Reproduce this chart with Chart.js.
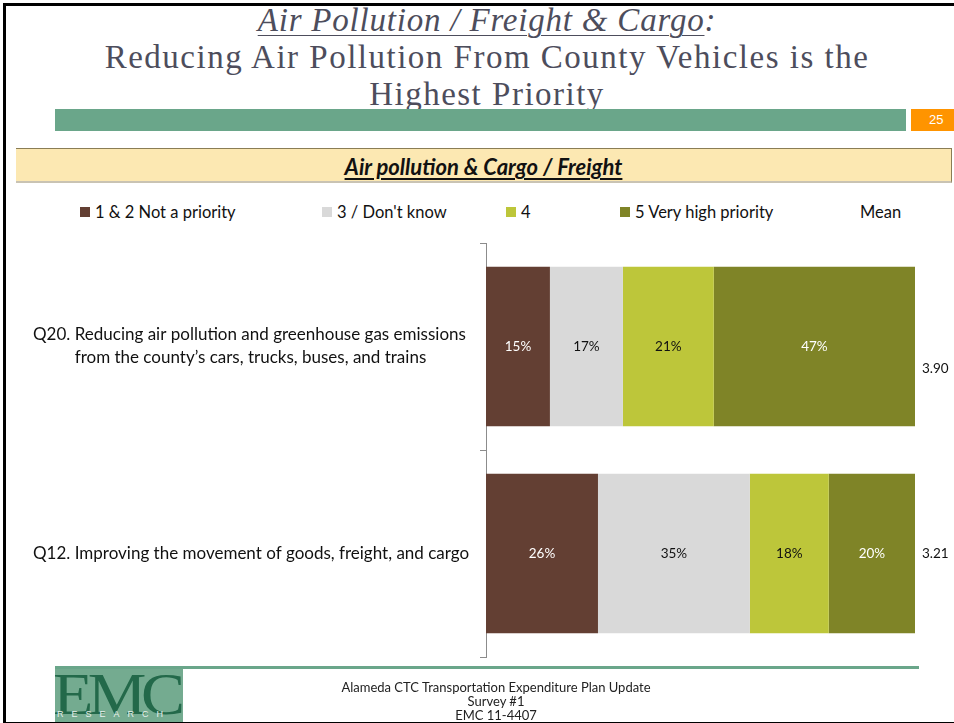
<!DOCTYPE html>
<html>
<head>
<meta charset="utf-8">
<script src="https://cdn.jsdelivr.net/npm/chart.js@4"></script>
<style>
  body { margin: 0; background: #fff; }
  #slide { position: relative; width: 954px; height: 723px; overflow: hidden; background: #fff; font-family: Lato, "Open Sans", sans-serif; }
  #frame { position: absolute; left: 3px; top: 3px; width: 960px; height: 716px; border: 3px solid #000; border-right: none; box-sizing: content-box; }
  .title { position: absolute; left: 0; width: 974px; text-align: center; font-family: "Liberation Serif", serif; font-size: 33px; color: #4d4d5c; line-height: 37px; letter-spacing: 1.5px; }
  #t1 { top: 2px; font-style: italic; letter-spacing: 0.8px; }
  #t1 u { text-decoration-thickness: 1px; text-underline-offset: 4px; }
  #t2 { top: 39px; }
  #t3 { top: 76px; }
  #greenBar { position: absolute; left: 55px; top: 109px; width: 851px; height: 22px; background: #6aa68a; }
  #pageBox { position: absolute; left: 911px; top: 109px; width: 43px; height: 22px; background: #ff9400; color: #fff; font: 13px "Liberation Sans", sans-serif; line-height: 22px; padding-left: 18px; box-sizing: border-box; }
  #banner { position: absolute; left: 16px; top: 148px; width: 936px; height: 35px; background: #fce8b2; border-top: 1px solid #8a7d55; border-right: 1px solid #8a7d55; border-bottom: 2px solid #c9c3b3; box-sizing: border-box; text-align: center; font-weight: bold; font-style: italic; font-size: 22px; line-height: 35px; color: #111; }
  #banner span { text-decoration: underline; text-underline-offset: 3px; }
  .leg { position: absolute; top: 202px; font-size: 16.5px; line-height: 20px; color: #111; white-space: nowrap; }
  .leg i { display: inline-block; width: 10px; height: 10px; margin-right: 5px; vertical-align: 1px; }
  #chart { position: absolute; left: 0; top: 0; }
  #footLine { position: absolute; left: 55px; top: 666px; width: 864px; height: 3px; background: #6aa68a; }
  #logo { position: absolute; left: 55px; top: 669px; width: 128px; height: 54px; background: #74ab90; overflow: hidden; }
  #logo .emc { position: absolute; left: -2px; top: -9px; font: 60px "Liberation Serif", serif; color: #23694a; letter-spacing: -5px; transform: scaleX(1.1); transform-origin: left; }
  #logo .res { position: absolute; left: 2px; top: 40px; font: 9px "Liberation Sans", sans-serif; color: #e8f0ec; letter-spacing: 8px; }
  .foot { position: absolute; left: 0; width: 992px; text-align: center; font-size: 13px; color: #222; line-height: 14px; }
</style>
</head>
<body>
<div id="slide">
  <div class="title" id="t1"><u>Air Pollution / Freight &amp; Cargo</u>:</div>
  <div class="title" id="t2">Reducing Air Pollution From County Vehicles is the</div>
  <div class="title" id="t3">Highest Priority</div>
  <div id="greenBar"></div>
  <div id="pageBox">25</div>
  <div id="banner"><span>Air pollution &amp; Cargo / Freight</span></div>
  <div id="legend"></div>
  <canvas id="chart" width="954" height="723"></canvas>
  <div id="footLine"></div>
  <div id="logo"><div class="emc">EMC</div><div class="res">RESEARCH</div></div>
  <div class="foot" style="top:680px">Alameda CTC Transportation Expenditure Plan Update</div>
  <div class="foot" style="top:694px">Survey #1</div>
  <div class="foot" style="top:708px">EMC 11-4407</div>
  <div id="frame"></div>
</div>
<script>
// Categories (questions)
const categories = [
  ['Q20. Reducing air pollution and greenhouse gas emissions', 'from the county\u2019s cars, trucks, buses, and trains'],
  ['Q12. Improving the movement of goods, freight, and cargo']
];

// Series (percent of respondents)
const seriesNames = ['1 & 2 Not a priority', '3 / Don\'t know', '4', '5 Very high priority'];
const notPriority = [14.9, 26.1];
const dontKnow = [17.0, 35.4];
const fourRating = [21.2, 18.4];
const veryHigh = [46.9, 20.1];
const means = ['3.90', '3.21'];

const seriesColors = ['#633f33', '#d9d9d9', '#bdc63a', '#7f8427'];
const labelColors = ['#ffffff', '#111111', '#111111', '#ffffff'];

// HTML legend (fixed column positions like the slide)
const legendX = [80, 322, 506, 620];
const legendEl = document.getElementById('legend');
seriesNames.forEach((name, i) => {
  const d = document.createElement('div');
  d.className = 'leg';
  d.style.left = legendX[i] + 'px';
  d.innerHTML = '<i style="background:' + seriesColors[i] + '"></i>';
  d.appendChild(document.createTextNode(name));
  legendEl.appendChild(d);
});
const meanLeg = document.createElement('div');
meanLeg.className = 'leg';
meanLeg.style.left = '860px';
meanLeg.textContent = 'Mean';
legendEl.appendChild(meanLeg);

const FONT = 'Lato, "Open Sans", sans-serif';

// percent labels in the middle of each segment + mean on the right
const barLabels = {
  id: 'barLabels',
  afterDatasetsDraw(chart) {
    const ctx = chart.ctx;
    ctx.save();
    ctx.font = '13.5px ' + FONT;
    ctx.textAlign = 'center';
    ctx.textBaseline = 'middle';
    chart.data.datasets.forEach((ds, i) => {
      chart.getDatasetMeta(i).data.forEach((bar, j) => {
        ctx.fillStyle = labelColors[i];
        ctx.fillText(Math.round(ds.data[j]) + '%', (bar.x + bar.base) / 2, bar.y);
      });
    });
    // means
    const meanOffsets = [22, 0];
    ctx.fillStyle = '#111';
    ctx.textAlign = 'left';
    chart.getDatasetMeta(0).data.forEach((bar, j) => {
      ctx.fillText(means[j], chart.chartArea.right + 7, bar.y + meanOffsets[j]);
    });
    ctx.restore();
  }
};

// category labels with hanging indent
const categoryLabels = {
  id: 'categoryLabels',
  afterDraw(chart) {
    const ctx = chart.ctx;
    const y = chart.scales.y;
    ctx.save();
    ctx.font = '17px ' + FONT;
    ctx.fillStyle = '#111';
    ctx.textAlign = 'left';
    ctx.textBaseline = 'middle';
    categories.forEach((lines, i) => {
      const cy = y.getPixelForValue(i);
      const prefix = lines[0].split(' ')[0] + ' ';
      const indent = ctx.measureText(prefix).width;
      lines.forEach((line, k) => {
        const ly = cy + (k - (lines.length - 1) / 2) * 23;
        ctx.fillText(line, k === 0 ? 33 : 33 + indent, ly);
      });
    });
    ctx.restore();
  }
};

new Chart(document.getElementById('chart'), {
  type: 'bar',
  data: {
    labels: categories.map(c => c.join(' ')),
    datasets: [
      { label: seriesNames[0], data: notPriority, backgroundColor: seriesColors[0] },
      { label: seriesNames[1], data: dontKnow, backgroundColor: seriesColors[1] },
      { label: seriesNames[2], data: fourRating, backgroundColor: seriesColors[2] },
      { label: seriesNames[3], data: veryHigh, backgroundColor: seriesColors[3] }
    ]
  },
  options: {
    indexAxis: 'y',
    responsive: false,
    devicePixelRatio: 1,
    animation: false,
    layout: { padding: { left: 476, right: 39, top: 243, bottom: 66 } },
    datasets: { bar: { categoryPercentage: 1, barPercentage: 0.77, borderWidth: 0 } },
    plugins: { legend: { display: false }, tooltip: { enabled: false } },
    scales: {
      x: { stacked: true, min: 0, max: 100, display: false },
      y: {
        stacked: true,
        afterFit: s => { s.width = 10; },
        ticks: { display: false },
        grid: { offset: true, drawOnChartArea: false, drawTicks: true, tickLength: 6, color: '#8c8c8c' },
        border: { display: true, color: '#8c8c8c', width: 1 }
      }
    }
  },
  plugins: [barLabels, categoryLabels]
});
</script>
</body>
</html>
